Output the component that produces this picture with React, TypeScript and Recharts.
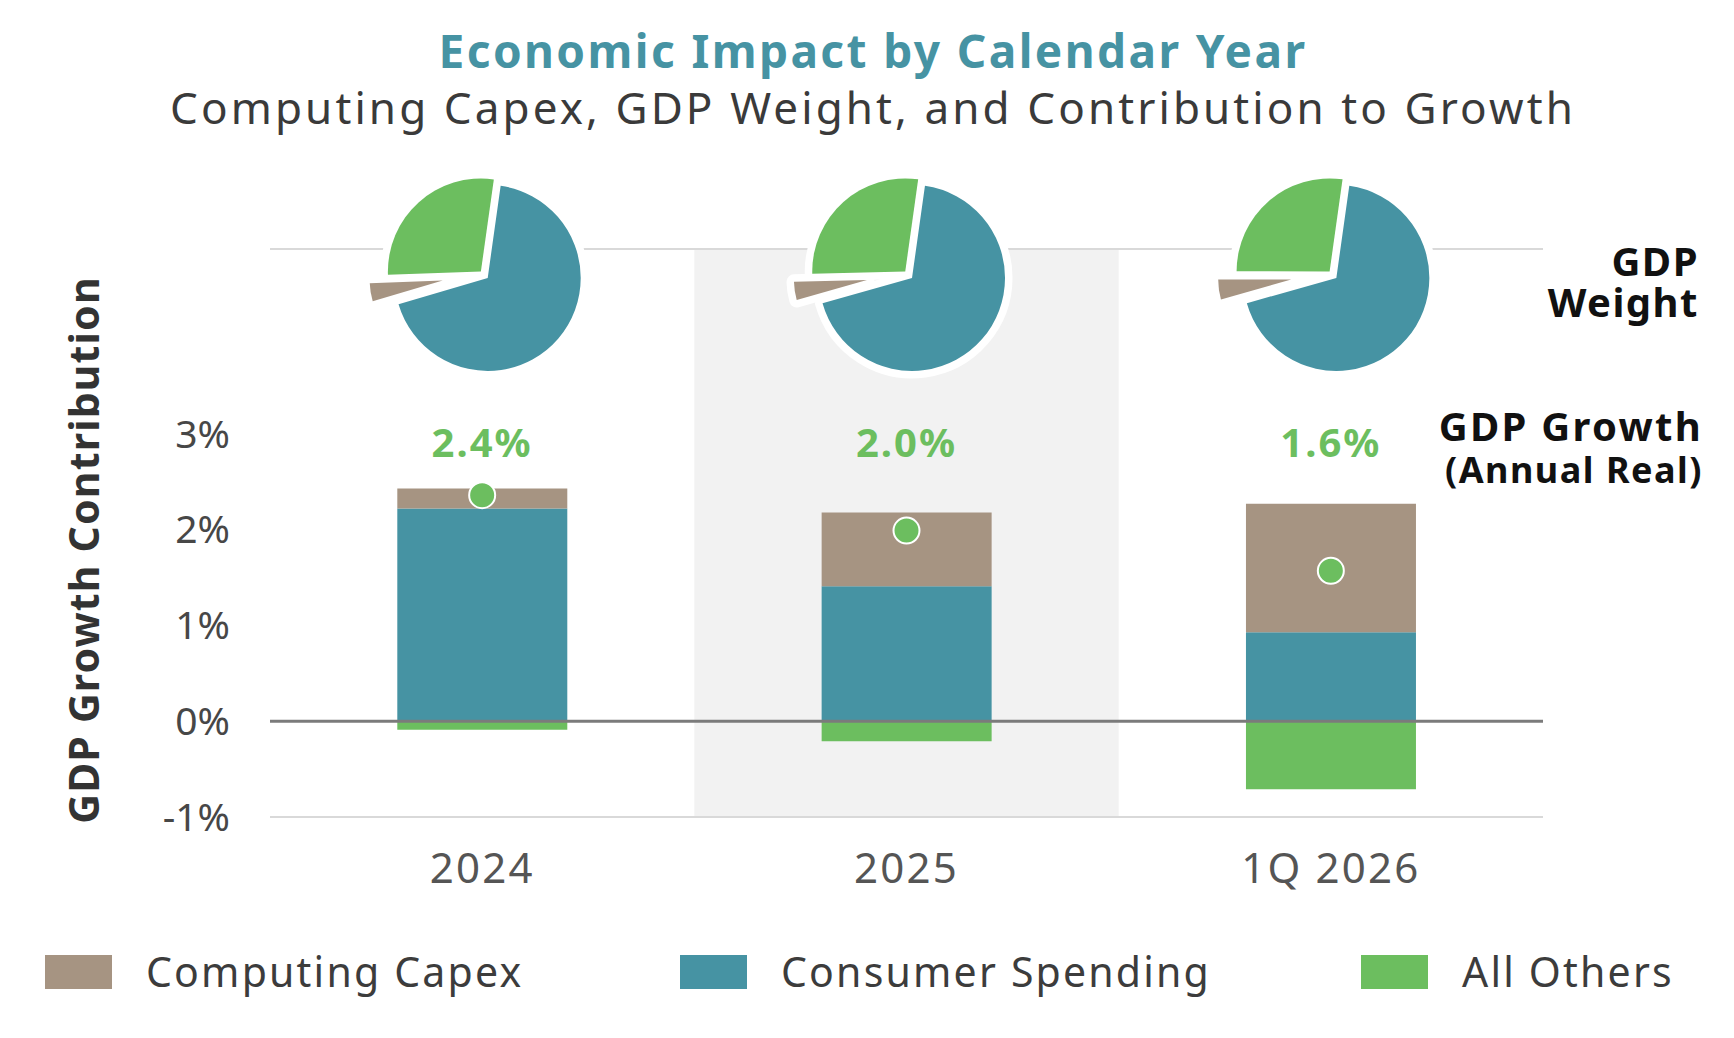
import React from 'react';
import {
  ComposedChart,
  Bar,
  Line,
  XAxis,
  YAxis,
  ReferenceArea,
  ReferenceLine,
  LabelList,
  PieChart,
  Pie,
  Cell,
} from 'recharts';

// ---- data ----
const categories = ['2024', '2025', '1Q 2026'];
const consumerSpending = [2.22, 1.41, 0.93];
const computingCapex = [0.21, 0.77, 1.34];
const allOthers = [-0.09, -0.21, -0.71];
const gdpGrowth = [2.36, 1.99, 1.57];
const yTicks = [-1, 0, 1, 2, 3];

// GDP weight shares (%) shown as the pies
const weightConsumer = [68.2, 68.4, 68.4];
const weightCapex = [4.0, 4.0, 4.4];
const weightOthers = [27.8, 27.6, 27.2];

const series = [
  { key: 'capex', name: 'Computing Capex', color: '#a69482' },
  { key: 'consumer', name: 'Consumer Spending', color: '#4693a3' },
  { key: 'others', name: 'All Others', color: '#6cbe5f' },
];

const rows = categories.map((category, i) => ({
  category,
  consumer: consumerSpending[i],
  capex: computingCapex[i],
  others: allOthers[i],
  growth: gdpGrowth[i],
}));

// ---- layout ----
const W = 1734;
const H = 1038;
const PLOT_LEFT = 270;
const PLOT_RIGHT = 1543;
const PLOT_TOP = 249;
const PLOT_BOTTOM = 817;
const Y_TOP = 4.93;
const X_AXIS_H = 100;
const FONT = '"Noto Sans", "DejaVu Sans", sans-serif';
const GREEN = '#6cbe5f';
const TEAL = '#4693a3';
const LEGEND_X = [45, 680, 1361];

const bandWidth = (PLOT_RIGHT - PLOT_LEFT) / categories.length;
const PIE_CY = 274;
const PIE_START = 82;

const colorOf = (key: string) => series.find((s) => s.key === key)!.color;

// slice order around the pie, clockwise from the top
const sliceDefs = [
  { key: 'consumer', weights: weightConsumer, radius: 93, explode: 6 },
  { key: 'capex', weights: weightCapex, radius: 73, explode: 41 },
  { key: 'others', weights: weightOthers, radius: 93, explode: 3.4 },
];

function GrowthLabel(props: any) {
  const { x, value } = props;
  return (
    <text
      x={x}
      y={457}
      textAnchor="middle"
      fill={GREEN}
      fontSize={40}
      fontWeight={700}
      fontFamily={FONT}
      letterSpacing={2}
    >
      {`${Number(value).toFixed(1)}%`}
    </text>
  );
}

function WeightPies() {
  const pies: React.ReactNode[] = [];
  categories.forEach((cat, i) => {
    const data = sliceDefs.map((s) => ({ name: s.key, value: s.weights[i] }));
    const total = data.reduce((a, d) => a + d.value, 0);
    const cx0 = PLOT_LEFT + (i + 0.5) * bandWidth + 1;
    let cum = 0;
    const mids = data.map((d) => {
      const mid = PIE_START - (360 * (cum + d.value / 2)) / total;
      cum += d.value;
      return mid;
    });
    // white halos first, then the coloured slices
    ['halo', 'fill'].forEach((layer) => {
      sliceDefs.forEach((s, si) => {
        const rad = (mids[si] * Math.PI) / 180;
        const cx = cx0 + s.explode * Math.cos(rad);
        const cy = PIE_CY - s.explode * Math.sin(rad);
        pies.push(
          <Pie
            key={`${cat}-${layer}-${s.key}`}
            data={data}
            dataKey="value"
            cx={cx}
            cy={cy}
            innerRadius={0}
            outerRadius={s.radius}
            startAngle={PIE_START}
            endAngle={PIE_START - 360}
            stroke="none"
            isAnimationActive={false}
            legendType="none"
          >
            {data.map((d, di) =>
              di === si ? (
                layer === 'halo' ? (
                  <Cell key={d.name} fill="#ffffff" stroke="#ffffff" strokeWidth={15} strokeLinejoin="round" />
                ) : (
                  <Cell key={d.name} fill={colorOf(d.name)} stroke="none" />
                )
              ) : (
                <Cell key={d.name} fill="none" stroke="none" />
              )
            )}
          </Pie>
        );
      });
    });
  });
  return (
    <PieChart
      width={W}
      height={420}
      margin={{ top: 0, right: 0, bottom: 0, left: 0 }}
      style={{ position: 'absolute', left: 0, top: 0 }}
    >
      {pies}
    </PieChart>
  );
}

function Legend() {
  return (
    <>
      {series.map((s, i) => (
        <div
          key={s.key}
          style={{
            position: 'absolute',
            left: LEGEND_X[i],
            top: 951,
            display: 'flex',
            alignItems: 'center',
            fontFamily: FONT,
            fontSize: 41,
            color: '#3c3c3c',
            lineHeight: 1,
            whiteSpace: 'nowrap',
          }}
        >
          <div style={{ width: 67, height: 34, background: s.color }} />
          <span style={{ marginLeft: 34, letterSpacing: 2.2 }}>{s.name}</span>
        </div>
      ))}
    </>
  );
}

export default function App() {
  return (
    <div style={{ position: 'absolute', left: 0, top: 0, width: W, height: H, background: '#fff' }}>
      <ComposedChart
        width={W}
        height={H}
        data={rows}
        stackOffset="sign"
        barCategoryGap="30%"
        margin={{ top: PLOT_TOP, right: W - PLOT_RIGHT, bottom: H - PLOT_BOTTOM - X_AXIS_H, left: 0 }}
      >
        <ReferenceArea x1="2025" x2="2025" y1={-1} y2={Y_TOP} fill="#f2f2f2" fillOpacity={1} stroke="none" />
        <XAxis
          dataKey="category"
          height={X_AXIS_H}
          interval={0}
          axisLine={false}
          tickLine={false}
          tickSize={0}
          tickMargin={36}
          tick={{ fontSize: 42, fill: '#555555', fontFamily: FONT, letterSpacing: 2.2 }}
        />
        <YAxis
          width={PLOT_LEFT}
          domain={[-1, Y_TOP]}
          ticks={yTicks}
          interval={0}
          axisLine={false}
          tickLine={false}
          tickSize={0}
          tickMargin={40}
          tickFormatter={(v) => `${v}%`}
          tick={{ fontSize: 39, fill: '#474747', fontFamily: FONT }}
        />
        <ReferenceLine y={Y_TOP} stroke="#d9d9d9" strokeWidth={2} />
        <ReferenceLine y={-1} stroke="#d9d9d9" strokeWidth={2} />
        <Bar dataKey="consumer" name="Consumer Spending" stackId="g" fill={colorOf('consumer')} isAnimationActive={false} />
        <Bar dataKey="capex" name="Computing Capex" stackId="g" fill={colorOf('capex')} isAnimationActive={false} />
        <Bar dataKey="others" name="All Others" stackId="g" fill={colorOf('others')} isAnimationActive={false} />
        <ReferenceLine y={0} stroke="#7b7b7b" strokeWidth={3} />
        <Line
          dataKey="growth"
          stroke="none"
          dot={{ r: 13, fill: GREEN, stroke: '#ffffff', strokeWidth: 2 }}
          activeDot={false}
          isAnimationActive={false}
        >
          <LabelList dataKey="growth" content={GrowthLabel} />
        </Line>
      </ComposedChart>

      <WeightPies />

      <svg width={W} height={H} style={{ position: 'absolute', left: 0, top: 0, pointerEvents: 'none' }}>
        <text x={873} y={68} textAnchor="middle" fill={TEAL} fontSize={46} fontWeight={700} fontFamily={FONT} letterSpacing={2.4}>
          Economic Impact by Calendar Year
        </text>
        <text x={873} y={124} textAnchor="middle" fill="#3a3a3a" fontSize={44} fontFamily={FONT} letterSpacing={3.1}>
          Computing Capex, GDP Weight, and Contribution to Growth
        </text>
        <text
          x={99}
          y={550}
          transform="rotate(-90, 99, 550)"
          textAnchor="middle"
          fill="#333333"
          fontSize={41}
          fontWeight={700}
          fontFamily={FONT}
          letterSpacing={1.2}
        >
          GDP Growth Contribution
        </text>
        <text textAnchor="end" fill="#111111" fontSize={40} fontWeight={700} fontFamily={FONT} letterSpacing={1.5}>
          <tspan x={1699} y={276}>GDP</tspan>
          <tspan x={1699} y={317}>Weight</tspan>
        </text>
        <text textAnchor="end" fill="#111111" fontWeight={700} fontFamily={FONT}>
          <tspan x={1703} y={441} fontSize={40} letterSpacing={2.3}>GDP Growth</tspan>
          <tspan x={1703} y={483} fontSize={36} letterSpacing={1.5}>(Annual Real)</tspan>
        </text>
      </svg>

      <Legend />
    </div>
  );
}
